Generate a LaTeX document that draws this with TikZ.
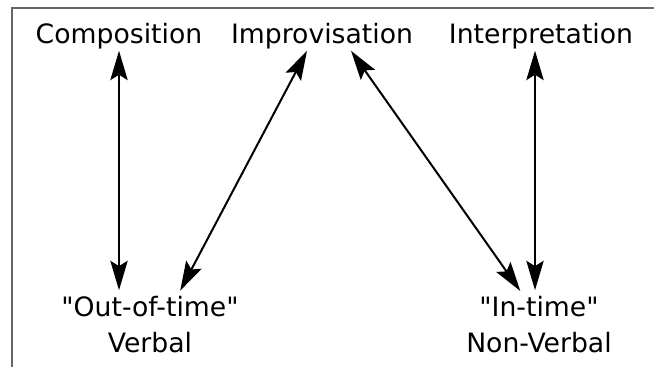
\documentclass[tikz,border=0pt]{standalone}
\usepackage{fontspec}
\setmainfont{DejaVu Sans}
\usetikzlibrary{arrows.meta}

\def\ux{0.75pt}
\def\uy{0.75pt}

\begin{document}
\begin{tikzpicture}[x=\ux,y=\uy, font=\fontsize{20}{27}\selectfont, thick]
		\tikzset{
			term/.style={inner sep=1pt, align=center},
			head/.tip={Stealth[length=22pt,width=13pt,inset=4pt]},
			link/.style={head-head, line width=1.5pt, shorten >=3.5pt},
			frame/.style={line width=1.1pt, black!60},
		}
		\useasboundingbox (0,0) rectangle (654,367);

		% frame, open at right and bottom
		\draw[frame] (12,0) -- (12,359) -- (654,359);

		% the three activities
		\node[term] (comp) at (119,331) {Composition};
		\node[term] (impr) at (322,331) {Improvisation};
		\node[term] (interp) at (541,331) {Interpretation};

		% the two modes
		\node[term] (out) at (150,42) {\textquotedbl Out-of-time\textquotedbl\\Verbal};
		\node[term] (intime) at (539,42) {\textquotedbl In-time\textquotedbl\\Non-Verbal};

		\draw[link] (comp.south) -- (comp.south |- out.north);
		\draw[link] ([xshift=-11.25pt]impr.south) -- ([xshift=21pt]out.north);
		\draw[link] ([xshift=21.75pt]impr.south) -- ([xshift=-12pt]intime.north);
		\draw[link] ([xshift=-4.5pt]interp.south) -- ([xshift=-4.5pt]interp.south |- intime.north);

		\end{tikzpicture}
\end{document}
